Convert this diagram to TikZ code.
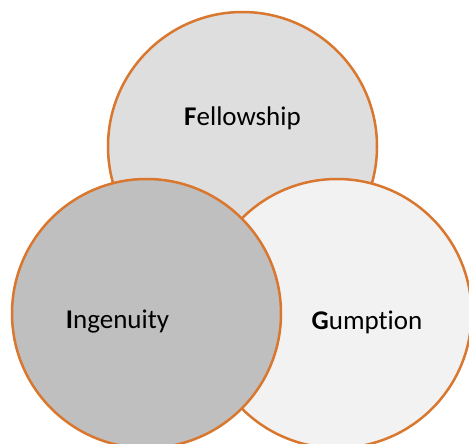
\documentclass[tikz,border=0pt]{standalone}
\usepackage{fontspec}
\setmainfont{Carlito}[RawFeature=-liga]
\usepackage{tikz}
\usetikzlibrary{calc}

\definecolor{ringorange}{HTML}{D9772E}
\definecolor{topgrey}{HTML}{DEDEDE}
\definecolor{leftgrey}{HTML}{BFBFBF}
\definecolor{rightgrey}{HTML}{F2F2F2}

\tikzset{
  ring/.style = {circle, draw = ringorange, line width = 2.5pt, minimum size = 269pt, inner sep = 0pt},
  word/.style = {font = \fontsize{27}{32}\selectfont, text = black}
}

\begin{document}
\begin{tikzpicture}[x = 1pt, y = -1pt]
  \useasboundingbox (0,0) rectangle (469,444);
  \node[ring, fill = topgrey] (F) at (242.5,146.5) {};
  \node[ring, fill = rightgrey] (G) at (337,313.5) {};
  \node[ring, fill = leftgrey] (I) at (146.5,313.5) {};
  \node[word] (f) at (242.5,118) {\textbf{F}ellowship};
  \node[word] (i) at (117.5,322) {\textbf{I}ngenuity};
  \node[word] (g) at (367,322) {\textbf{G}umption};
\end{tikzpicture}
\end{document}
